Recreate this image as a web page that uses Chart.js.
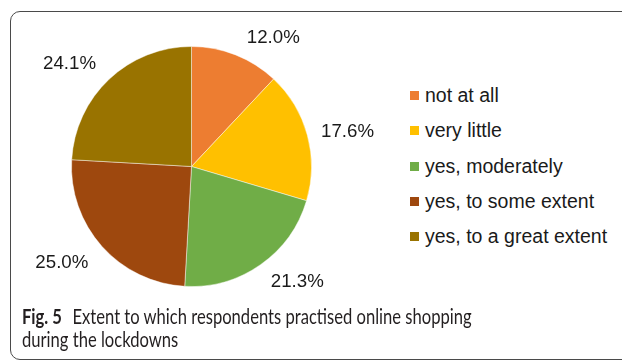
<!DOCTYPE html>
<html lang="en">
<head>
<meta charset="UTF-8">
<title>Fig. 5 online shopping</title>
<style>
    body {
        margin: 0;
        width: 622px;
        height: 360px;
        overflow: hidden;
        background: #fff;
        font-family: "Liberation Sans", Arial, sans-serif;
    }
    .frame {
        position: absolute;
        left: 10px;
        top: 11px;
        width: 700px;
        height: 347px;
        border: 1.5px solid #4a4a4a;
        border-radius: 10px;
    }
    #chartBox {
        position: absolute;
        left: 0;
        top: 0;
        width: 383px;
        height: 333px;
    }
    #legend {
        position: absolute;
        left: 410px;
        top: 78px;
        margin: 0;
        padding: 0;
        list-style: none;
    }
    #legend li {
        height: 35.3px;
        display: flex;
        align-items: center;
        font-size: 19.5px;
        color: #1a1a1a;
    }
    #legend .sw {
        width: 9px;
        height: 9px;
        margin-right: 6px;
    }
    .caption {
        position: absolute;
        left: 22px;
        top: 304px;
        font-family: Lato, "Open Sans", sans-serif;
        font-size: 21px;
        line-height: 23px;
        color: #231f20;
        white-space: nowrap;
        transform: scaleX(0.79);
        transform-origin: left top;
    }
    .caption b {
        margin-right: 8px;
    }
</style>
<script src="https://cdn.jsdelivr.net/npm/chart.js"></script>
</head>
<body>
<div class="frame"></div>
<div id="chartBox"><canvas id="pie"></canvas></div>
<ul id="legend"></ul>
<div class="caption"><b>Fig. 5</b> Extent to which respondents practised online shopping<br>during the lockdowns</div>

<script>
    const categories = ['not at all', 'very little', 'yes, moderately', 'yes, to some extent', 'yes, to a great extent'];
    const shares = [12.0, 17.6, 21.3, 25.0, 24.1];
    const sliceColors = ['#ED7D31', '#FFC000', '#70AD47', '#9E480E', '#997300'];

    // labels sit outside the pie; small angle nudges keep them clear of each other
    const outsideLabels = {
        id: 'outsideLabels',
        afterDatasetsDraw(chart, args, opts) {
            const ctx = chart.ctx;
            const meta = chart.getDatasetMeta(0);
            ctx.save();
            ctx.font = '18.7px "Liberation Sans", Arial, sans-serif';
            ctx.fillStyle = '#1a1a1a';
            ctx.textAlign = 'center';
            ctx.textBaseline = 'middle';
            meta.data.forEach((arc, i) => {
                const p = arc.getProps(['x', 'y', 'startAngle', 'endAngle', 'outerRadius'], true);
                const mid = (p.startAngle + p.endAngle) / 2 + (opts.nudge[i] || 0) * Math.PI / 180;
                const r = p.outerRadius + opts.gap[i];
                const value = chart.data.datasets[0].data[i];
                ctx.fillText(value.toFixed(1) + '%', p.x + Math.cos(mid) * r, p.y + Math.sin(mid) * r + 1);
            });
            ctx.restore();
        }
    };

    const chart = new Chart(document.getElementById('pie'), {
        type: 'pie',
        data: {
            labels: categories,
            datasets: [{
                data: shares,
                backgroundColor: sliceColors,
                borderColor: 'rgba(255,255,255,0.45)',
                borderWidth: 1
            }]
        },
        options: {
            responsive: true,
            maintainAspectRatio: false,
            animation: false,
            layout: { padding: { top: 46, bottom: 46, left: 0, right: 0 } },
            plugins: {
                legend: { display: false },
                tooltip: { enabled: false },
                outsideLabels: {
                    nudge: [10.7, 2.3, -7.6, 5.4, -6.3],
                    gap: [33, 40, 36, 41, 40]
                }
            }
        },
        plugins: [outsideLabels]
    });

    // legend list built from the chart's own labels
    const legendEl = document.getElementById('legend');
    chart.options.plugins.legend.labels.generateLabels(chart).forEach(item => {
        const li = document.createElement('li');
        li.innerHTML = '<span class="sw" style="background:' + item.fillStyle + '"></span>' + item.text;
        legendEl.appendChild(li);
    });
</script>
</body>
</html>
